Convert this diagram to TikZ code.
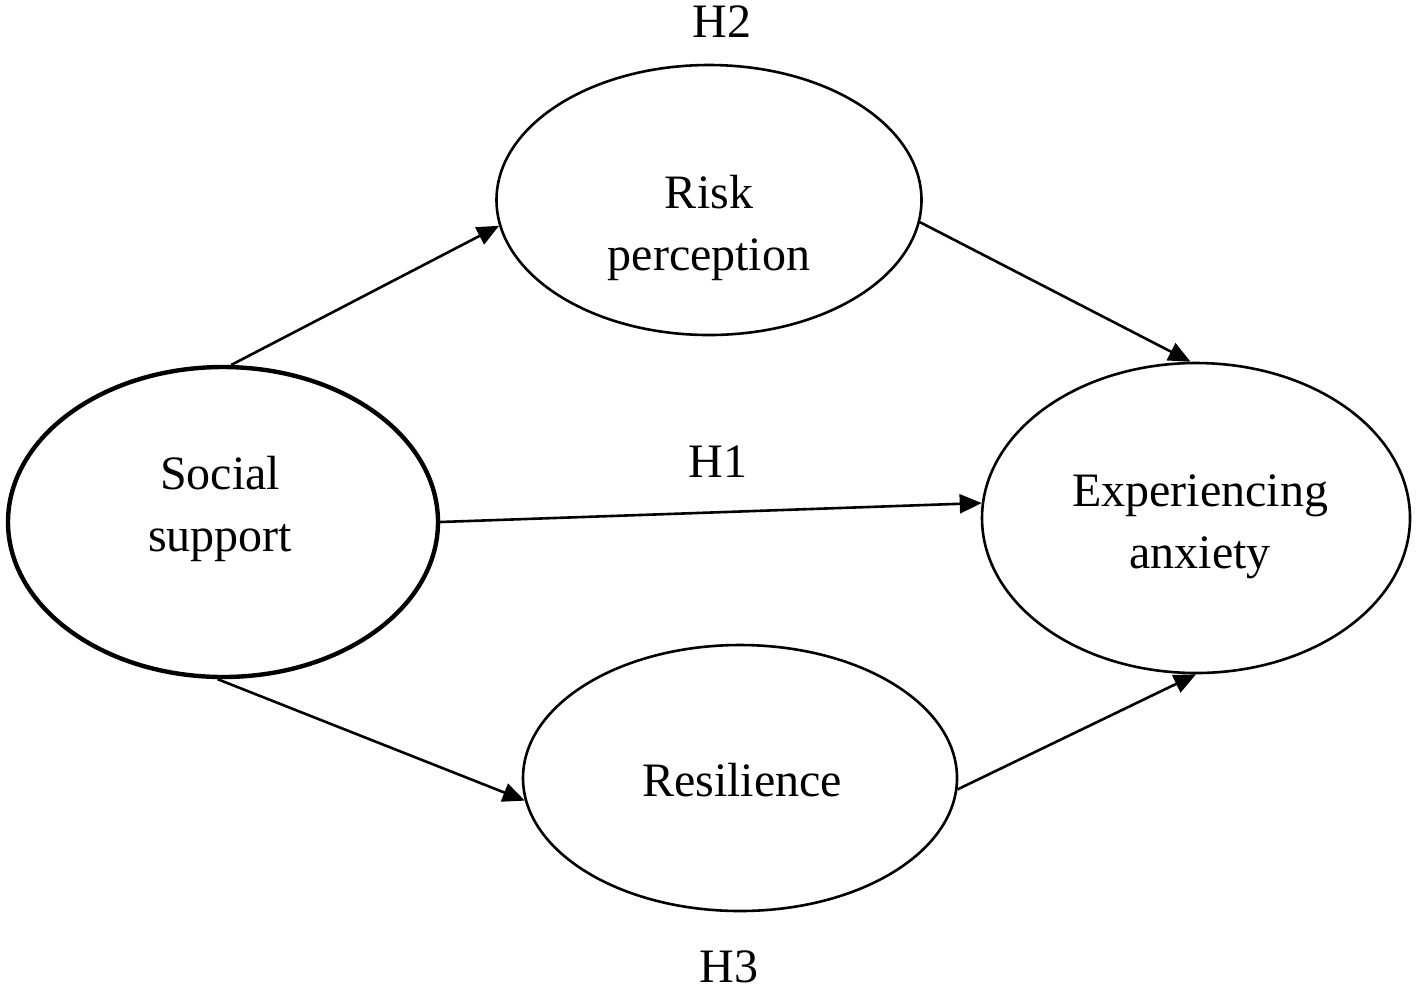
\documentclass[tikz,border=0pt]{standalone}
\usepackage{fontspec}
\setmainfont{Liberation Serif}
\usetikzlibrary{shapes.geometric,arrows.meta}
\begin{document}
\begin{tikzpicture}[x=0.5pt,y=-0.5pt,
  oval/.style={draw,ellipse,line width=1.3pt,inner sep=0pt},
  lbl/.style={font=\fontsize{24pt}{31pt}\selectfont,align=center,inner sep=0pt},
  conn/.style={line width=1.3pt,-{Triangle[length=11pt,width=9.5pt]}}]
\useasboundingbox[fill=white] (0,0) rectangle (1418,993);
\node[oval,line width=2.2pt,minimum width=215pt,minimum height=155pt] (ss) at (223,522) {};
\node[oval,minimum width=212.5pt,minimum height=135pt] (rp) at (709,200) {};
\node[oval,minimum width=214pt,minimum height=155pt] (ea) at (1196,518) {};
\node[oval,minimum width=217pt,minimum height=133pt] (rs) at (740,778) {};
\node[lbl] (tss) at (220,509) {Social\\support};
\node[lbl] (trp) at (709,228) {Risk\\perception};
\node[lbl] (tea) at (1200,527) {Experiencing\\anxiety};
\node[lbl] (trs) at (742,780) {Resilience};
\node[lbl] (h2) at (722,22) {H2};
\node[lbl] (h1) at (718,462) {H1};
\node[lbl] (h3) at (729,967) {H3};
\draw[conn] (ss.87) -- (rp.187);
\draw[conn] (rp.-6) -- (ea.92);
\draw[conn] (ss.east) -- (ea.176);
\draw[conn] (ss.-92) -- (rs.186);
\draw[conn] (rs.-3) -- (ea.-90);
\end{tikzpicture}
\end{document}
